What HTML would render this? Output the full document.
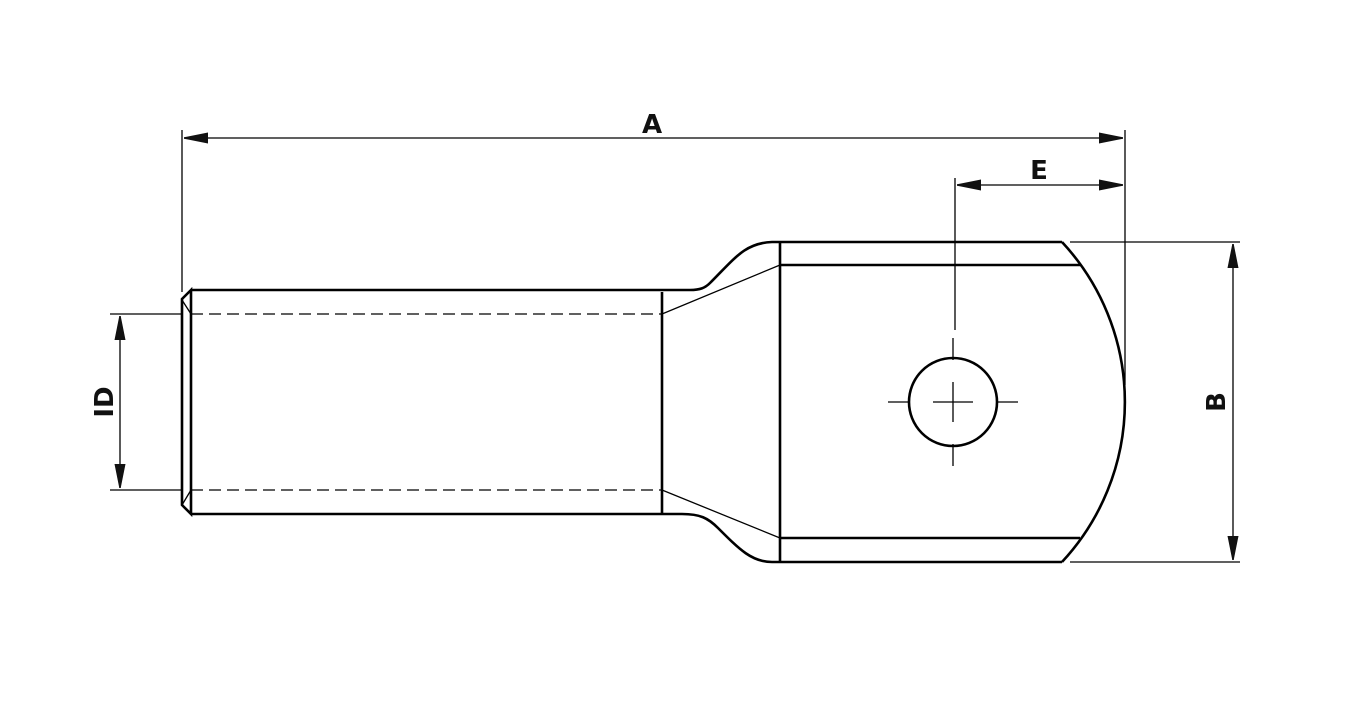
<!DOCTYPE html>
<html><head><meta charset="utf-8"><style>html,body{margin:0;padding:0;background:#fff}svg{display:block}</style></head><body>
<svg width="1364" height="717" viewBox="0 0 1364 717" xmlns="http://www.w3.org/2000/svg">
<defs>
<marker id="ar" viewBox="0 0 24 12" refX="24" refY="6" markerWidth="24" markerHeight="12" markerUnits="userSpaceOnUse" orient="auto-start-reverse">
<path d="M0,0.5 L20,4.5 L24,5.3 L24,6.7 L20,7.5 L0,11.5 Z" fill="#111"/>
</marker>
</defs>
<g fill="none" stroke="#000">
<g stroke-width="1.3">
<line x1="182" y1="130" x2="182" y2="292"/>
<line x1="1125" y1="130" x2="1125" y2="385"/>
<line x1="955" y1="178" x2="955" y2="330"/>
<line x1="184" y1="138" x2="1123" y2="138" marker-start="url(#ar)" marker-end="url(#ar)"/>
<line x1="957" y1="185" x2="1123" y2="185" marker-start="url(#ar)" marker-end="url(#ar)"/>
<line x1="1070" y1="242" x2="1240" y2="242"/>
<line x1="1070" y1="562" x2="1240" y2="562"/>
<line x1="1233" y1="244" x2="1233" y2="560" marker-start="url(#ar)" marker-end="url(#ar)"/>
<line x1="110" y1="314" x2="182" y2="314"/>
<line x1="110" y1="490" x2="182" y2="490"/>
<line x1="120" y1="316" x2="120" y2="488" marker-start="url(#ar)" marker-end="url(#ar)"/>
<line x1="933" y1="402" x2="973" y2="402"/>
<line x1="953" y1="382" x2="953" y2="422"/>
<line x1="888" y1="402" x2="910" y2="402"/>
<line x1="996" y1="402" x2="1018" y2="402"/>
<line x1="953" y1="338" x2="953" y2="360"/>
<line x1="953" y1="444" x2="953" y2="466"/>
<line x1="191" y1="314" x2="662" y2="314" stroke-dasharray="12,6"/>
<line x1="191" y1="490" x2="662" y2="490" stroke-dasharray="12,6"/>
<line x1="662" y1="314" x2="780" y2="265"/>
<line x1="662" y1="490" x2="780" y2="538"/>
<line x1="182" y1="300" x2="191" y2="314"/>
<line x1="182" y1="505" x2="191" y2="490"/>
</g>
<g stroke-width="2.6">
<path d="M191,290 L690,290 C700,290 705,288 710,283 C735,258 745,243 772,242 L1062,242"/>
<path d="M191,514 L682,514 C700,514 708,518 718,528 C740,550 752,562 772,562 L1062,562"/>
<path d="M191,290 L182,299 L182,505 L191,514 Z"/>
<line x1="662" y1="292" x2="662" y2="514"/>
<line x1="780" y1="242" x2="780" y2="562"/>
<line x1="780" y1="265" x2="1080" y2="265"/>
<line x1="780" y1="538" x2="1080" y2="538"/>
<path d="M1062,242 A235,235 0 0 1 1062,562"/>
<circle cx="953" cy="402" r="44"/>
</g>
</g>
<g font-family="'DejaVu Sans','Liberation Sans',sans-serif" font-weight="bold" font-size="26" fill="#111" text-anchor="middle">
<text x="652" y="133">A</text>
<text x="1039" y="179">E</text>
<text transform="translate(1225,402) rotate(-90)">B</text>
<text transform="translate(113,402) rotate(-90)">ID</text>
</g>
</svg>
</body></html>
